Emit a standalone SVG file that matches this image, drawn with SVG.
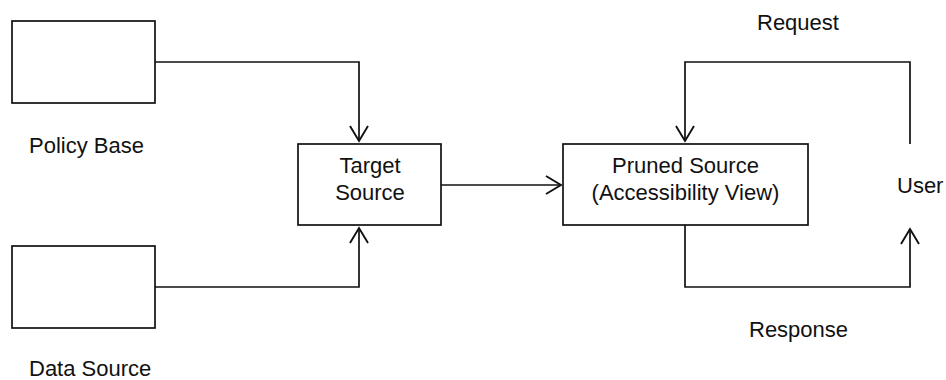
<svg xmlns="http://www.w3.org/2000/svg" width="946" height="380" viewBox="0 0 946 380">
  <style>
    .box { fill: #fff; stroke: #111; stroke-width: 1.7; }
    .wire { fill: none; stroke: #111; stroke-width: 1.7; }
    text { font-family: "Liberation Sans", Arial, sans-serif; font-size: 22px; fill: #111; }
    .mid { text-anchor: middle; }
  </style>
  <defs>
    <marker id="open-arrow" viewBox="-16 -10 18 20" refX="0" refY="0" markerWidth="18" markerHeight="20" markerUnits="userSpaceOnUse" orient="auto">
      <path d="M-15,-9 L0,0 L-15,9" fill="none" stroke="#111" stroke-width="1.9"/>
    </marker>
  </defs>

  <rect width="946" height="380" fill="#fff"/>

  <g id="policy-base">
    <rect class="box" x="12" y="21" width="143" height="82"/>
    <text x="29" y="153">Policy Base</text>
  </g>

  <g id="data-source">
    <rect class="box" x="12" y="246" width="143" height="82"/>
    <text x="29" y="376">Data Source</text>
  </g>

  <g id="target-source">
    <rect class="box" x="298" y="144" width="143" height="81"/>
    <text class="mid" x="370" y="173">Target</text>
    <text class="mid" x="370" y="200">Source</text>
  </g>

  <g id="pruned-source">
    <rect class="box" x="563" y="144" width="245" height="81"/>
    <text class="mid" x="685.5" y="173">Pruned Source</text>
    <text class="mid" x="685.5" y="200">(Accessibility View)</text>
  </g>

  <g id="user">
    <text x="897" y="193">User</text>
  </g>

  <g id="connectors">
    <path class="wire" d="M155,62 H359 V141" marker-end="url(#open-arrow)"/>
    <path class="wire" d="M155,287 H359 V228" marker-end="url(#open-arrow)"/>
    <path class="wire" d="M441,185 H561" marker-end="url(#open-arrow)"/>
    <path class="wire" d="M910,144 V62 H685 V141" marker-end="url(#open-arrow)"/>
    <path class="wire" d="M685,225 V287 H910 V229" marker-end="url(#open-arrow)"/>
    <text x="757" y="30">Request</text>
    <text x="749" y="337">Response</text>
  </g>
</svg>
